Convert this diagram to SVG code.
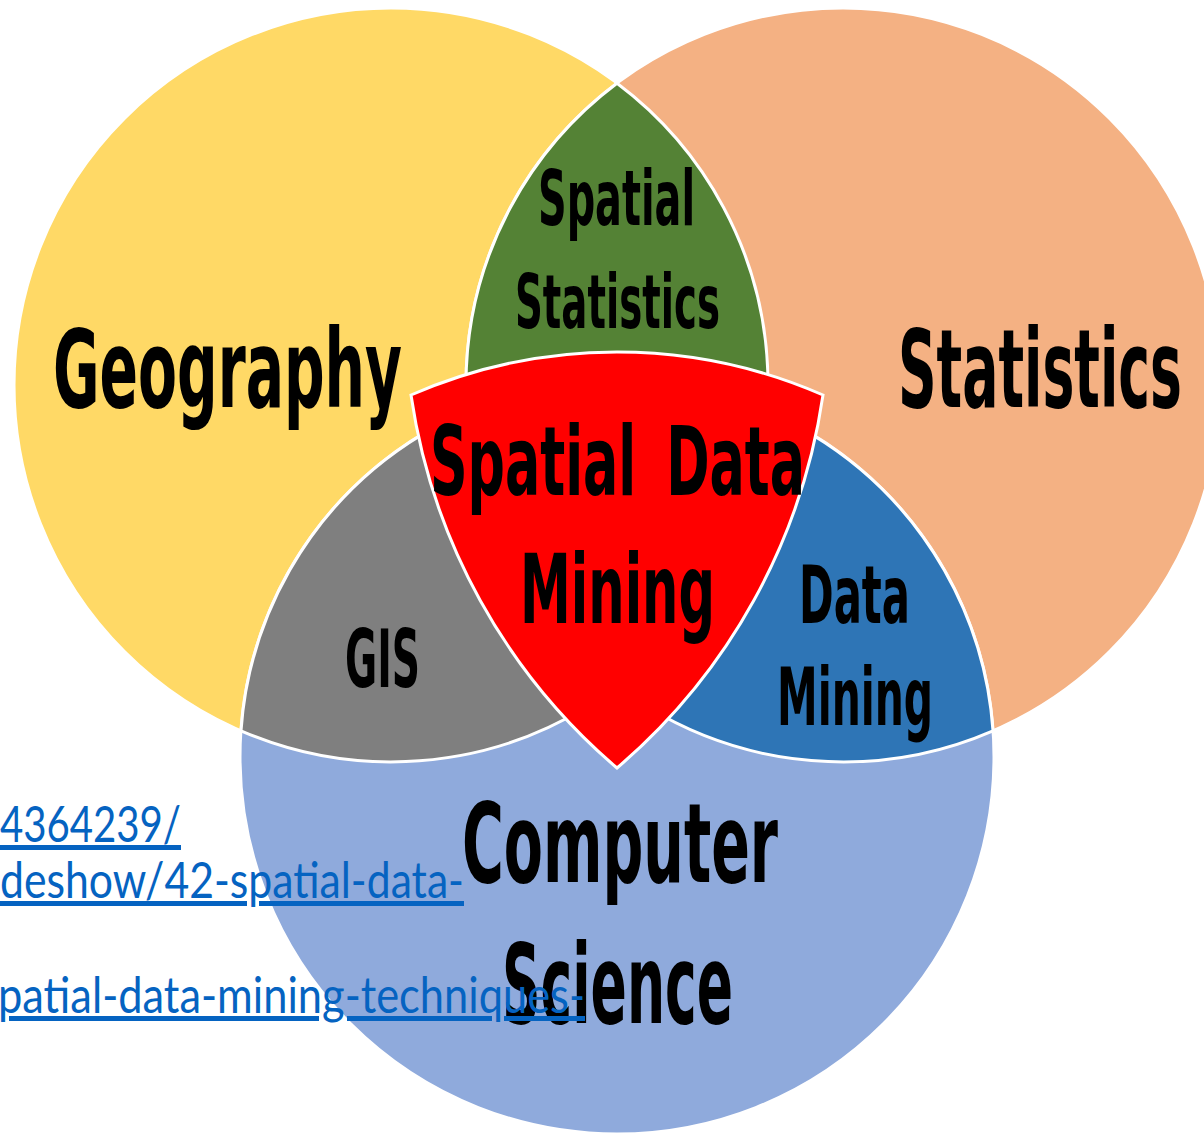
<svg xmlns="http://www.w3.org/2000/svg" width="1204" height="1134" viewBox="0 0 1204 1134">
<style>
.s{stroke:#fff;stroke-width:3}
.lbl{font-family:"Liberation Sans Narrow","DejaVu Sans Condensed","DejaVu Sans",sans-serif;font-weight:bold;fill:#000}
.lnk{font-family:Lato,"Open Sans","Liberation Sans",sans-serif;font-size:50px;fill:#0563C1;text-decoration:underline}
</style>
<rect width="1204" height="1134" fill="#fff"/>
<g id="geography">
<circle cx="391" cy="385" r="377" fill="#FFD966" class="s"/>
<text class="lbl" x="53" y="407" font-size="108" textLength="349" lengthAdjust="spacingAndGlyphs">Geography</text>
</g>
<g id="statistics">
<circle cx="843" cy="385" r="377" fill="#F4B183" class="s"/>
<text class="lbl" x="898" y="407" font-size="108" textLength="284" lengthAdjust="spacingAndGlyphs">Statistics</text>
</g>
<g id="computer-science">
<circle cx="617" cy="757" r="377" fill="#8FAADC" class="s"/>
<text class="lbl" x="462" y="882" font-size="111" textLength="316" lengthAdjust="spacingAndGlyphs">Computer</text>
<text class="lbl" x="502" y="1023" font-size="111" textLength="231" lengthAdjust="spacingAndGlyphs">Science</text>
</g>
<g id="spatial-statistics">
<path d="M617 83.25A377 377 0 0 1 617 686.75A377 377 0 0 1 617 83.25Z" fill="#548235" class="s"/>
<text class="lbl" x="538" y="225" font-size="77" textLength="157" lengthAdjust="spacingAndGlyphs">Spatial</text>
<text class="lbl" x="515" y="328" font-size="75" textLength="205" lengthAdjust="spacingAndGlyphs">Statistics</text>
</g>
<g id="gis">
<path d="M241 730.8A377 377 0 0 1 767 411.2A377 377 0 0 1 241 730.8Z" fill="#7F7F7F" class="s"/>
<text class="lbl" x="345" y="687" font-size="80" textLength="75" lengthAdjust="spacingAndGlyphs">GIS</text>
</g>
<g id="data-mining">
<path d="M467 411.2A377 377 0 0 1 993 730.8A377 377 0 0 1 467 411.2Z" fill="#2E75B6" class="s"/>
<text class="lbl" x="799" y="623" font-size="80" textLength="111" lengthAdjust="spacingAndGlyphs">Data</text>
<text class="lbl" x="777" y="725" font-size="80" textLength="156" lengthAdjust="spacingAndGlyphs">Mining</text>
</g>
<g id="spatial-data-mining">
<path d="M411 395A515 515 0 0 1 823 395A605 605 0 0 1 617 768A605 605 0 0 1 411 395Z" fill="#FF0000" class="s"/>
<text class="lbl" x="430" y="495" font-size="97" textLength="375" lengthAdjust="spacingAndGlyphs" word-spacing="20">Spatial Data</text>
<text class="lbl" x="520" y="623" font-size="97" textLength="195" lengthAdjust="spacingAndGlyphs">Mining</text>
</g>
<g id="connectors"/>
<g id="links">
<text class="lnk" x="0" y="842" textLength="181" lengthAdjust="spacingAndGlyphs">4364239/</text>
<text class="lnk" x="0" y="898" textLength="464" lengthAdjust="spacingAndGlyphs">deshow/42-spatial-data-</text>
<text class="lnk" x="-2" y="1013" textLength="587" lengthAdjust="spacingAndGlyphs">patial-data-mining-techniques-</text>
</g>
</svg>
